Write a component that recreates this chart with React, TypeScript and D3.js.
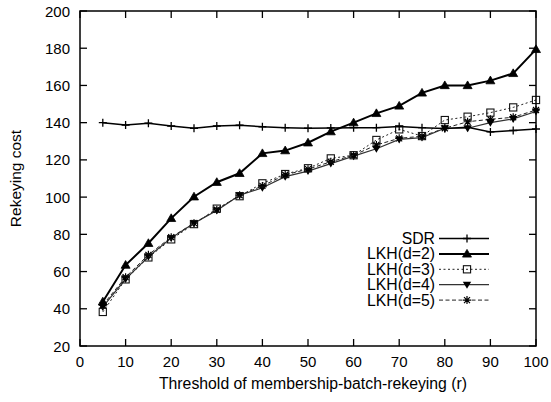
import React from "react";
import * as d3 from "d3";

const thresholds = [5,10,15,20,25,30,35,40,45,50,55,60,65,70,75,80,85,90,95,100];
const sdr = [140,138.7,139.7,138.2,137,138.2,138.6,137.8,137.3,137,137.2,137.3,137.3,138,137.3,136.8,137.5,135,135.8,136.6];
const lkh2 = [43.8,63.5,75.2,88.6,100.2,108,112.8,123.5,125,129.2,135.2,140,145,149,156,160,160,162.6,166.5,179.4];
const lkh3 = [38.3,55.8,67.6,77.3,85.5,93.8,100.5,107.4,112.4,115.5,120.8,122.5,130.7,136.4,132.8,141.4,143.2,145.4,148.2,152.2];
const lkh4 = [41,56,68,78,86,92.8,101,105,111,114,118,122,126,131,132,137,137,140,142,146];
const lkh5 = [42,57,69,78.5,86,93.2,101,106,112,115,119,122.5,128,131.6,132.7,137,140.5,141.8,142.9,146.8];
const seriesNames = ["SDR","LKH(d=2)","LKH(d=3)","LKH(d=4)","LKH(d=5)"];
const xTicks = [0,10,20,30,40,50,60,70,80,90,100];
const yTicks = [20,40,60,80,100,120,140,160,180,200];

const W = 551, H = 402;
const m = { left: 80, right: 15, top: 11, bottom: 56 };

const FONT = "'Liberation Sans', Arial, Helvetica, sans-serif";

type Style = { stroke: string; width: number; dash?: string; marker: string };
const styles: Style[] = [
  { stroke: "#000", width: 1.5, marker: "plus" },
  { stroke: "#000", width: 2, marker: "tri" },
  { stroke: "#222", width: 1, dash: "2,2.5", marker: "square" },
  { stroke: "#333", width: 1.2, marker: "dtri" },
  { stroke: "#222", width: 1, dash: "4,2.5", marker: "star" },
];

function Marker({ kind, x, y }: { kind: string; x: number; y: number }) {
  const s = 4;
  if (kind === "plus")
    return <path d={`M${x - s},${y}H${x + s}M${x},${y - s}V${y + s}`} stroke="#000" strokeWidth={1.3} fill="none" />;
  if (kind === "tri")
    return <path d={`M${x},${y - 4.5}L${x + 4.5},${y + 3.2}L${x - 4.5},${y + 3.2}Z`} fill="#000" stroke="#000" strokeWidth={0.8} />;
  if (kind === "square")
    return <rect x={x - 3.6} y={y - 3.6} width={7.2} height={7.2} fill="none" stroke="#111" strokeWidth={1.1} />;
  if (kind === "dtri")
    return <path d={`M${x},${y + 4}L${x + 4.2},${y - 3}L${x - 4.2},${y - 3}Z`} fill="#000" />;
  return (
    <path
      d={`M${x - s},${y}H${x + s}M${x - 3},${y - 3}L${x + 3},${y + 3}M${x - 3},${y + 3}L${x + 3},${y - 3}M${x},${y - s}V${y + s}`}
      stroke="#000" strokeWidth={1.2} fill="none"
    />
  );
}

export default function App() {
  const x = d3.scaleLinear().domain([0, 100]).range([m.left, W - m.right]);
  const y = d3.scaleLinear().domain([20, 200]).range([H - m.bottom, m.top]);
  const all = [sdr, lkh2, lkh3, lkh4, lkh5];
  const line = d3.line<number>().x((_, i) => x(thresholds[i])).y((d) => y(d));
  const x0 = x(0), x1 = x(100), y0 = y(20), y1 = y(200);
  const order = [4, 3, 2, 0, 1];
  const legX = 435, legY0 = 238.5, legDy = 15.4, lx0 = 439, lx1 = 489;
  return (
    <svg width={W} height={H} style={{ position: "absolute", left: 0, top: 0, background: "#fff" }} fontFamily={FONT}>
      {order.map((k) => (
        <g key={k}>
          <path d={line(all[k]) || ""} fill="none" stroke={styles[k].stroke} strokeWidth={styles[k].width} strokeDasharray={styles[k].dash} />
          {all[k].map((v, i) => (
            <Marker key={i} kind={styles[k].marker} x={x(thresholds[i])} y={y(v)} />
          ))}
        </g>
      ))}
      <rect x={x0} y={y1} width={x1 - x0} height={y0 - y1} fill="none" stroke="#000" strokeWidth={1.5} />
      {xTicks.map((t) => (
        <g key={t}>
          <line x1={x(t)} x2={x(t)} y1={y0} y2={y0 - 7} stroke="#000" strokeWidth={1.3} />
          <line x1={x(t)} x2={x(t)} y1={y1} y2={y1 + 7} stroke="#000" strokeWidth={1.3} />
          <text x={x(t)} y={y0 + 21} textAnchor="middle" fontSize={15}>{t}</text>
        </g>
      ))}
      {yTicks.map((t) => (
        <g key={t}>
          <line x1={x0} x2={x0 + 7} y1={y(t)} y2={y(t)} stroke="#000" strokeWidth={1.3} />
          <line x1={x1} x2={x1 - 7} y1={y(t)} y2={y(t)} stroke="#000" strokeWidth={1.3} />
          <text x={x0 - 10} y={y(t) + 5.5} textAnchor="end" fontSize={15}>{t}</text>
        </g>
      ))}
      <text x={(x0 + x1) / 2 + 5} y={389} textAnchor="middle" fontSize={15.8}>Threshold of membership-batch-rekeying (r)</text>
      <text transform={`translate(21,${(y0 + y1) / 2}) rotate(-90)`} textAnchor="middle" fontSize={15.5}>Rekeying cost</text>
      {seriesNames.map((n, k) => {
        const ly = legY0 + k * legDy;
        return (
          <g key={n}>
            <text x={legX} y={ly + 5.5} textAnchor="end" fontSize={15.8}>{n}</text>
            <line x1={lx0} x2={lx1} y1={ly} y2={ly} stroke={styles[k].stroke} strokeWidth={styles[k].width} strokeDasharray={styles[k].dash} />
            <Marker kind={styles[k].marker} x={(lx0 + lx1) / 2 + 3} y={ly} />
          </g>
        );
      })}
    </svg>
  );
}
